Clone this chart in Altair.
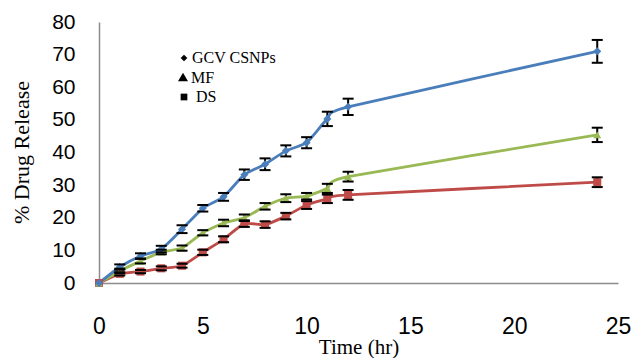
import altair as alt
import pandas as pd

time = [0, 1, 2, 3, 4, 5, 6, 7, 8, 9, 10, 11, 12, 24]
gcv = [0, 4.9, 8.3, 10.4, 16.5, 22.9, 26.4, 33.2, 36.4, 40.5, 43.0, 50.3, 54.0, 71.0]
mf = [0, 3.7, 6.7, 9.5, 10.7, 15.4, 18.4, 20.0, 23.5, 26.0, 26.6, 29.0, 32.6, 45.4]
ds = [0, 2.8, 3.5, 4.5, 5.3, 9.4, 13.4, 18.2, 17.9, 20.5, 23.9, 25.8, 27.0, 30.9]
gcv_err = [0, 0.8, 0.8, 1.0, 1.2, 1.0, 1.2, 1.6, 1.8, 1.7, 1.7, 2.2, 2.5, 3.5]
mf_err = [0, 0.7, 0.7, 0.7, 0.8, 0.8, 1.0, 1.0, 1.0, 1.2, 1.0, 1.4, 1.5, 2.2]
ds_err = [0, 0.5, 0.5, 0.6, 0.6, 0.8, 0.9, 1.0, 1.0, 1.0, 1.2, 1.3, 1.5, 1.5]

series_names = ["GCV CSNPs", "MF", "DS"]
series_colors = ["#4A7EBB", "#98B954", "#BE4B48"]
series_shapes = ["diamond", "triangle-up", "square"]

rows = []
# draw order: DS first, GCV last (on top)
for name, vals, errs in reversed(list(zip(series_names, [gcv, mf, ds], [gcv_err, mf_err, ds_err]))):
    for t, v, e in zip(time, vals, errs):
        rows.append({"time": t, "value": v, "lo": v - e, "hi": v + e, "series": name})
df = pd.DataFrame(rows)

x_scale = alt.Scale(domain=[0, 25], nice=False, zero=True)
y_scale = alt.Scale(domain=[0, 80], nice=False)

x_axis = alt.Axis(
    values=[0, 5, 10, 15, 20, 25], title="Time (hr)", grid=False, ticks=False,
    domainColor="#8C8C8C", domainWidth=1.5, labelOverlap=False,
    labelFont="Liberation Sans", labelFontSize=23, labelColor="#000000", labelPadding=32,
    labelFlush=False,
    titleFont="Liberation Serif", titleFontSize=21, titleFontWeight="normal", titleColor="#000000",
    titleY=70, titleBaseline="alphabetic",
)
y_axis = alt.Axis(
    values=[0, 10, 20, 30, 40, 50, 60, 70, 80], title="% Drug Release", grid=False, ticks=False,
    domainColor="#8C8C8C", domainWidth=1.5, labelOverlap=False,
    labelFont="Liberation Sans", labelFontSize=21, labelColor="#000000", labelPadding=24,
    labelFlush=False,
    titleFont="Liberation Serif", titleFontSize=22, titleFontWeight="normal", titleColor="#000000",
    titleX=-71, titleY=130, titleAngle=270, titleBaseline="alphabetic",
)

X = lambda f: alt.X(f, scale=x_scale, axis=x_axis)
Y = lambda f: alt.Y(f, scale=y_scale, axis=y_axis)

color = alt.Color("series:N", scale=alt.Scale(domain=series_names, range=series_colors), legend=None)
shape = alt.Shape("series:N", scale=alt.Scale(domain=series_names, range=series_shapes), legend=None)

base = alt.Chart(df)

lines = base.mark_line(strokeWidth=2.8, interpolate="cardinal", tension=0.45).encode(
    x=X("time:Q"), y=Y("value:Q"), color=color, detail="series:N",
)
points = base.mark_point(filled=True, size=65, opacity=1).encode(
    x=X("time:Q"), y=Y("value:Q"), color=color, shape=shape,
)
err_df = df[df["time"] > 0]
err_base = alt.Chart(err_df)
err_rules = err_base.mark_rule(color="black", strokeWidth=2).encode(
    x=X("time:Q"), y=Y("lo:Q"), y2="hi:Q",
)
cap_lo = err_base.mark_tick(color="black", thickness=2, size=11, orient="horizontal", opacity=1).encode(
    x=X("time:Q"), y=Y("lo:Q"),
)
cap_hi = err_base.mark_tick(color="black", thickness=2, size=11, orient="horizontal", opacity=1).encode(
    x=X("time:Q"), y=Y("hi:Q"),
)

one = pd.DataFrame({"k": [0]})
leg_layers = []
leg_sym = [("diamond", 184, 58, 45), ("triangle-up", 183, 77, 100), ("square", 184, 97, 45)]
for shp, px, py, sz in leg_sym:
    leg_layers.append(
        alt.Chart(one).mark_point(shape=shp, filled=True, color="black", size=sz, opacity=1).encode(
            x=alt.value(px - 99), y=alt.value(py - 22)
        )
    )
leg_txt = [("GCV CSNPs", 192, 58), ("MF", 191, 78), ("DS", 196, 97)]
for txt, px, py in leg_txt:
    leg_layers.append(
        alt.Chart(one).mark_text(
            text=txt, font="Liberation Serif", fontSize=16, color="black", align="left", baseline="middle"
        ).encode(x=alt.value(px - 99), y=alt.value(py - 22))
    )

chart = alt.layer(err_rules, lines, points, cap_lo, cap_hi, *leg_layers).properties(
    width=519, height=261,
    autosize=alt.AutoSizeParams(type="none"),
    padding={"left": 99, "top": 22, "right": 16, "bottom": 75},
    background="white",
).configure_view(stroke=None)

chart.save("out.html", embed_options={"renderer": "svg", "actions": False})
